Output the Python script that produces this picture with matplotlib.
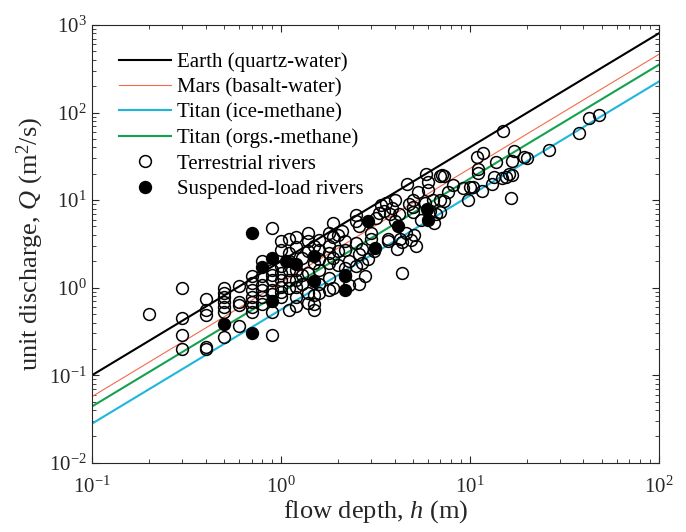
import numpy as np
import matplotlib.pyplot as plt

plt.rcParams['font.family'] = ['Liberation Serif', 'DejaVu Serif']
plt.rcParams['mathtext.fontset'] = 'custom'
plt.rcParams['mathtext.rm'] = 'Liberation Serif'
plt.rcParams['mathtext.it'] = 'Liberation Serif:italic'

# ---- model lines (end points, h = 0.1 and h = 100) ----
h_line = [0.1, 100]
q_earth = [0.1, 800]
q_mars = [0.057, 460]
q_titan_ice = [0.028, 225]
q_titan_org = [0.044, 350]

# ---- terrestrial rivers (open circles) ----
h_terr = [0.2,
          0.3, 0.3, 0.3, 0.3,
          0.4, 0.4, 0.4, 0.4, 0.4,
          0.5, 0.5, 0.5, 0.5, 0.5, 0.5, 0.5,
          0.6, 0.6, 0.6, 0.6,
          0.7, 0.7, 0.7, 0.7, 0.7, 0.7, 0.7,
          0.8, 0.8, 0.8, 0.8, 0.8, 0.8,
          0.9, 0.9, 0.9, 0.9, 0.9, 0.9, 0.9, 0.9,
          1.0, 1.0, 1.0, 1.0, 1.0, 1.0, 1.0, 1.0,
          1.1, 1.1, 1.1, 1.1, 1.1, 1.1, 1.1,
          1.2, 1.2, 1.2, 1.2, 1.2, 1.2, 1.2,
          1.3, 1.3, 1.3,
          1.4, 1.4, 1.4, 1.4, 1.4, 1.4,
          1.5, 1.5, 1.5, 1.5, 1.5,
          1.6, 1.6, 1.6, 1.6, 1.6, 1.6,
          1.8, 1.8, 1.8, 1.8, 1.8, 1.8,
          1.9, 1.9, 1.9, 1.9,
          2.0, 2.0, 2.0,
          2.1, 2.2, 2.2, 2.2, 2.2, 2.3, 2.3,
          2.5, 2.5, 2.6, 2.5, 2.6, 2.7, 2.7, 2.8, 2.6, 2.5, 2.9,
          3.0, 3.0, 3.1, 3.2, 3.3, 3.4, 3.5,
          3.6, 3.7, 3.8, 3.9, 4.0, 4.0, 4.1, 4.2, 4.3, 3.7, 4.4,
          4.37, 4.65, 4.6, 4.8, 4.9, 5.0, 5.0, 5.0, 5.1, 5.2, 5.3,
          5.5, 5.8, 5.9, 6.0, 6.0, 6.2, 6.4, 6.6, 6.5, 7.0, 7.0, 7.1, 7.3, 7.0, 7.3, 7.7,
          8.2, 9.2, 9.8, 10.0, 10.4, 10.9, 11.7, 11.1, 11.1, 11.6, 13.1, 13.4, 13.7,
          14.9, 15.5, 16.1, 16.7, 15.1, 16.8, 17.2, 16.6, 19.3, 20.2, 26.2, 37.8, 42.7, 48.2]
q_terr = [0.50,
          1.0, 0.45, 0.29, 0.20,
          0.74, 0.55, 0.49, 0.20, 0.21,
          1.0, 0.88, 0.79, 0.69, 0.61, 0.53, 0.27,
          1.04, 0.69, 0.64, 0.37,
          1.35, 1.13, 0.95, 0.79, 0.69, 0.61, 0.53,
          2.0, 1.35, 1.08, 0.95, 0.79, 0.65,
          4.8, 1.6, 1.4, 1.23, 0.95, 0.85, 0.53, 0.29,
          3.4, 2.7, 1.75, 1.46, 1.23, 1.03, 0.9, 0.78,
          3.6, 2.5, 2.0, 1.6, 1.23, 1.0, 0.55,
          3.8, 2.9, 1.6, 1.23, 1.03, 0.79, 0.62,
          2.2, 1.4, 1.1,
          4.2, 3.4, 2.6, 1.47, 0.87, 0.67,
          3.0, 1.9, 0.83, 0.55, 0.65,
          3.5, 2.7, 2.1, 1.6, 1.1, 0.87,
          4.2, 3.0, 2.5, 1.9, 1.3, 0.95,
          5.5, 3.8, 2.2, 1.0,
          4.0, 2.6, 1.8,
          4.5, 3.4, 2.7, 1.7, 1.4, 2.0, 1.08,
          6.7, 5.8, 5.0, 3.2, 2.4, 1.9, 2.8, 1.35, 1.1, 1.75, 2.1,
          4.2, 3.6, 2.6, 6.2, 7.2, 8.8, 7.5,
          9.3, 3.4, 6.9, 8.2, 10.0, 5.8, 2.8, 7.0, 3.6, 3.6, 3.3,
          1.47, 15.4, 4.2, 9.0, 3.5, 10.0, 8.4, 7.4, 4.0, 3.0, 12.4,
          6.0, 9.2, 20.0, 16.0, 13.0, 7.6, 10.0, 7.0, 5.5, 19.0, 10.0, 19.6, 18.8, 7.4, 9.8, 12.4,
          15.0, 13.6, 10.0, 14.0, 14.0, 31.0, 34.6, 22.4, 20.6, 12.8, 15.2, 18.5, 27.0,
          17.8, 18.5, 19.7, 19.2, 61.8, 28.0, 36.4, 10.6, 31.5, 30.0, 37.2, 59.0, 86.0, 95.0]

# ---- suspended-load rivers (filled circles) ----
h_susp = [0.5, 0.7, 0.7, 0.8, 0.9, 0.9, 1.07, 1.2, 1.5, 1.5,
          2.2, 2.2, 2.9, 3.16, 4.15, 5.94, 6.05]
q_susp = [0.39, 4.25, 0.30, 1.72, 2.2, 0.70, 2.0, 1.88, 2.28, 1.18,
          1.35, 0.95, 5.75, 2.84, 5.0, 7.83, 5.96]

fig = plt.figure(figsize=(6.86, 5.32), dpi=100)
ax = fig.add_axes([0.134, 0.13, 0.826, 0.823])

ax.plot(h_line, q_earth, color='black', lw=1.5, label='Earth (quartz-water)')
ax.plot(h_line, q_mars, color='#f26b4a', lw=0.8, label='Mars (basalt-water)')
ax.plot(h_line, q_titan_ice, color='#1fb6dc', lw=1.5, label='Titan (ice-methane)')
ax.plot(h_line, q_titan_org, color='#12a24e', lw=1.5, label='Titan (orgs.-methane)')
ax.plot(h_terr, q_terr, 'o', ms=8.5, mfc='none', mec='black', mew=1.1,
        label='Terrestrial rivers')
ax.plot(h_susp, q_susp, 'o', ms=8.5, mfc='black', mec='black', mew=1.1,
        label='Suspended-load rivers')

ax.set_xscale('log')
ax.set_yscale('log')
ax.set_xlim(0.1, 100)
ax.set_ylim(0.01, 1000)
ax.tick_params(which='both', direction='in', top=True, right=True,
               labelsize=15, colors='#262626')
ax.tick_params(axis='x', which='major', pad=10)
ax.tick_params(axis='y', which='major', pad=4)
ax.tick_params(which='major', length=5)
ax.tick_params(which='minor', length=3)
for s in ax.spines.values():
    s.set_color('#262626')
    s.set_linewidth(0.8)

ax.set_xlabel('flow depth, $h$ (m)', fontsize=19, color='#262626', labelpad=0)
ax.set_ylabel('unit discharge, $Q$ (m$^2$/s)', fontsize=19, color='#262626',
              labelpad=2)

ax.legend(loc='upper left', frameon=False, fontsize=15, handlelength=2.5,
          labelspacing=0.28, handletextpad=0.3, borderaxespad=0.9,
          borderpad=0.4)

fig.savefig('out.png', dpi=100)
